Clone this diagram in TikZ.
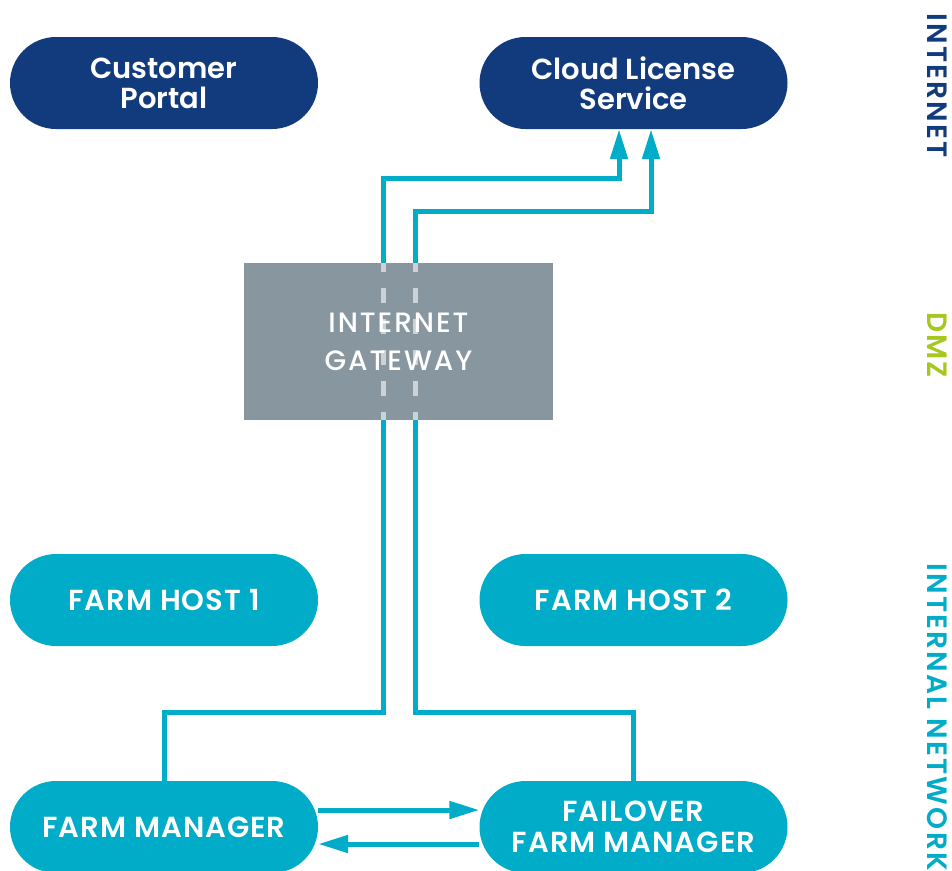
\documentclass[tikz,border=0pt]{standalone}
\usepackage{fontspec}
\setmainfont{Poppins}[BoldFont={Poppins SemiBold}]
\newfontfamily\gwfont{Poppins Medium}[LetterSpace=7]
\usetikzlibrary{arrows.meta}

\definecolor{navyblue}{HTML}{123B7E}
\definecolor{lnkcyan}{HTML}{00ACC7}
\definecolor{gwgrey}{HTML}{87969F}
\definecolor{dashgrey}{HTML}{CBD3D7}
\definecolor{dmzlime}{HTML}{A6C81E}

\tikzset{
  pill/.style={rounded corners=46pt, minimum width=308pt, minimum height=92pt,
    inner sep=0pt, align=center, text=white,
    font=\fontsize{29}{30}\selectfont\bfseries},
  pillnavy/.style={pill, fill=navyblue},
  pillcyan/.style={pill, fill=lnkcyan,
    font=\fontsize{29}{31}\selectfont\bfseries\addfontfeature{LetterSpace=3.5}},
  gwbox/.style={fill=gwgrey, minimum width=309pt, minimum height=157pt, inner sep=0pt},
  gwtext/.style={text=white, align=center, inner sep=0pt,
    font=\gwfont\fontsize{28}{38}\selectfont},
  link/.style={draw=lnkcyan, line width=5pt},
  linkarrow/.style={link, -{Triangle[length=30pt,width=17pt]}},
  dashline/.style={draw=dashgrey, line width=5pt,
    dash pattern=on 15pt off 16pt, dash phase=6pt},
  zonelabel/.style={rotate=-90, anchor=base west, inner sep=0pt,
    font=\fontsize{28}{30}\selectfont\bfseries\addfontfeature{LetterSpace=8}}
}

\begin{document}
\begin{tikzpicture}[x=1pt, y=-1pt]
  \useasboundingbox (0,0) rectangle (952,870);

  % service and host pills
  \node[pillnavy] (cp)  at (164,83)    {Customer\\Portal};
  \node[pillnavy] (cls) at (633.5,83)  {Cloud License\\Service};
  \node[pillcyan] (fh1) at (164,600)   {FARM HOST 1};
  \node[pillcyan] (fh2) at (633.5,600) {FARM HOST 2};
  \node[pillcyan] (fm)  at (164,827)   {FARM MANAGER};
  \node[pillcyan] (ffm) at (633.5,827) {FAILOVER\\FARM MANAGER};

  % bend points of the two uplinks
  \coordinate (a1) at (383,712);
  \coordinate (a2) at (383,178);
  \coordinate (b1) at (415,712);
  \coordinate (b2) at (415,211);

  % uplinks from the managers to the license service
  \draw[linkarrow] (fm.north) |- (a1) -- (a2) -| ([xshift=-14.5pt]cls.south);
  \draw[linkarrow] (ffm.north) |- (b1) -- (b2) -| ([xshift=17.5pt]cls.south);

  % manager <-> failover sync
  \draw[linkarrow] ([yshift=17pt]fm.east) -- ([yshift=17pt]ffm.west);
  \draw[linkarrow] ([yshift=-17pt]ffm.west) -- ([yshift=-17pt]fm.east);

  % gateway with the links passing through it
  \node[gwbox] (gw) at (398.5,341.5) {};
  \draw[dashline] (a2 |- gw.north) -- (a2 |- gw.south);
  \draw[dashline] (b2 |- gw.north) -- (b2 |- gw.south);
  \node[gwtext] (gwlabel) at (gw.center) {INTERNET\\GATEWAY};

  % zone labels
  \node[zonelabel, text=navyblue] (zinet) at (927,13)  {INTERNET};
  \node[zonelabel, text=dmzlime]  (zdmz)  at (927,312) {DMZ};
  \node[zonelabel, text=lnkcyan]  (zint)  at (927,563) {INTERNAL NETWORK};
\end{tikzpicture}
\end{document}
